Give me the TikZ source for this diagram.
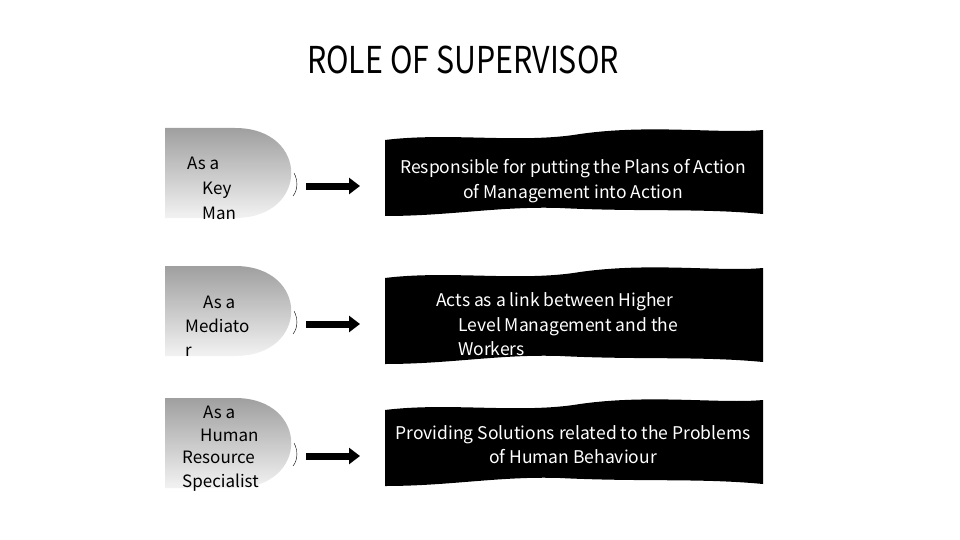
\documentclass[tikz,border=0pt]{standalone}
\usepackage{fontspec}
\usetikzlibrary{arrows.meta}
\setmainfont{Noto Sans CJK JP}
\begin{document}
\begin{tikzpicture}[x=1pt,y=-1pt,
  lbl/.style={anchor=base west,font=\fontsize{17}{19}\selectfont,inner sep=0},
  btxt/.style={anchor=base,font=\fontsize{17.5}{19}\selectfont,text=white,inner sep=0},
  btxtw/.style={anchor=base west,font=\fontsize{17.5}{19}\selectfont,text=white,inner sep=0},
  arr/.style={line width=7pt,-{Triangle[length=11pt,width=16pt]}}]
\useasboundingbox (0,0) rectangle (960,540);
\node[font=\fontsize{37}{40}\selectfont,inner sep=0] (title) at (463,60) {\scalebox{0.82}[1]{ROLE OF SUPERVISOR}};
\foreach \t/\r/\h in {128/1/86,266/2/96,398/3/86}{
  \shade[top color=gray!75,bottom color=gray!10]
    (165,\t) -- (235,\t) .. controls (310,\t) and (310,\t+90) .. (235,\t+90) -- (165,\t+90) -- cycle;
  \draw[thin] (294,\t+45) .. controls (298,\t+52) and (298,\t+62) .. (293,\t+68);
  \coordinate (s\r) at (306,\t+58);
  \coordinate (e\r) at (360,\t+58);
  \draw[arr] (s\r) -- (e\r);
  \fill (385,\t+12) .. controls (450,\t+4) and (520,\t+16) .. (580,\t+6)
     .. controls (650,\t-4) and (720,\t+6) .. (763,\t+2)
     -- (763,\t+\h) .. controls (700,\t+\h-6) and (640,\t+\h-2) .. (560,\t+\h-6)
     .. controls (500,\t+\h-8) and (450,\t+\h+2) .. (385,\t+\h+2) -- cycle;
}
\node[lbl] (a1) at (187,170) {As a};
\node[lbl] (a2) at (202,194) {Key};
\node[lbl] (a3) at (202,219) {Man};
\node[lbl] (b1) at (203,308) {As a};
\node[lbl] (b2) at (185,332) {Mediato};
\node[lbl] (b3) at (185,356) {r};
\node[lbl] (c1) at (203,418) {As a};
\node[lbl] (c2) at (200,441) {Human};
\node[lbl] (c3) at (182,463) {Resource};
\node[lbl] (c4) at (182,487) {Specialist};
\node[btxt] (t1) at (573,174) {Responsible for putting the Plans of Action};
\node[btxt] (t2) at (573,198) {of Management into Action};
\node[btxtw] (u1) at (436,306) {Acts as a link between Higher};
\node[btxtw] (u2) at (458,331) {Level Management and the};
\node[btxtw] (u3) at (458,355) {Workers};
\node[btxt] (v1) at (573,439) {Providing Solutions related to the Problems};
\node[btxt] (v2) at (573,463) {of Human Behaviour};
\end{tikzpicture}
\end{document}
